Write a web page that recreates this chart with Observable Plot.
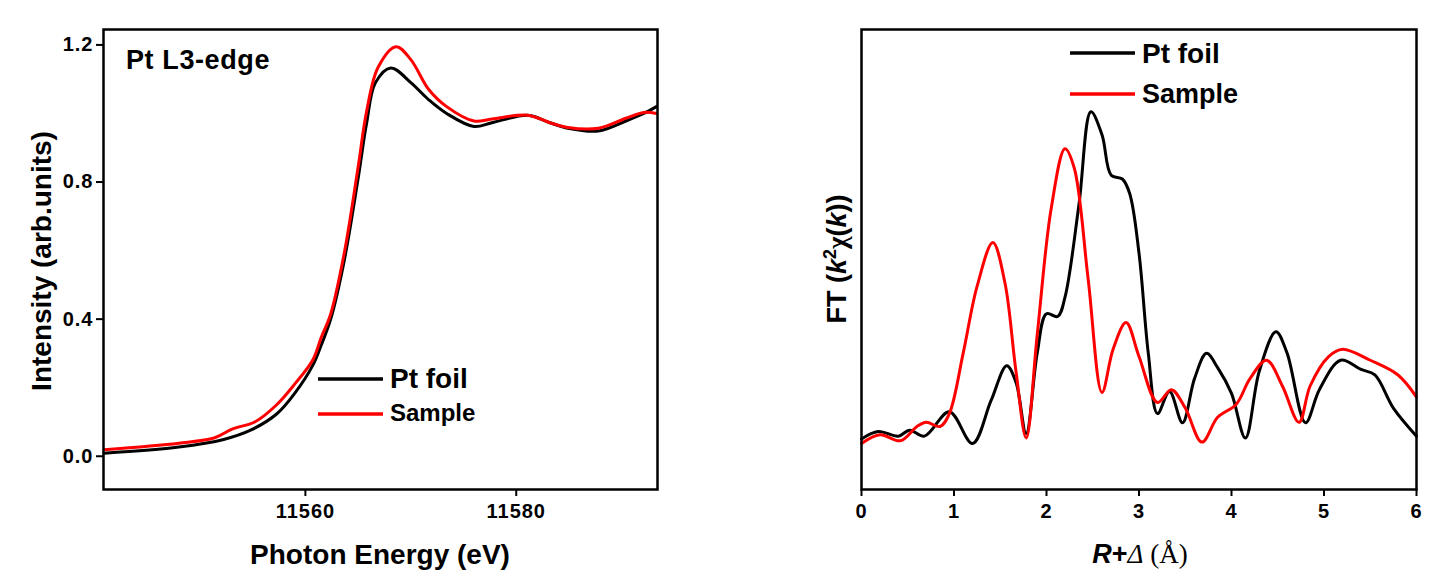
<!DOCTYPE html>
<html>
<head>
<meta charset="utf-8">
<script src="https://cdn.jsdelivr.net/npm/d3@7"></script>
<script src="https://cdn.jsdelivr.net/npm/@observablehq/plot@0.6"></script>
<style>
  html, body { margin: 0; padding: 0; background: #fff; }
  #wrap { position: relative; width: 1452px; height: 581px; overflow: hidden; font-family: "Liberation Sans", Arial, sans-serif; }
  #left, #right { position: absolute; top: 0; }
  #left { left: 0; }
  #right { left: 740px; }
  #left svg text, #right svg text { font-size: 20px !important; letter-spacing: 1px; font-weight: bold !important; font-family: "Liberation Sans", Arial, sans-serif; }
  #overlay { position: absolute; left: 0; top: 0; pointer-events: none; }
  #overlay text { font-family: "Liberation Sans", Arial, sans-serif; font-weight: bold; fill: #000; }
</style>
</head>
<body>
<div id="wrap">
  <div id="left"></div>
  <div id="right"></div>
  <svg id="overlay" width="1452" height="581"></svg>
</div>
<script>
// ---------- Left panel: Pt L3-edge XANES ----------
const xanesEnergy = [11540.9, 11548.0, 11552.25, 11554.8, 11557.3, 11559.0, 11560.7, 11561.5, 11562.4, 11563.7, 11565.0, 11565.8, 11566.65, 11568.1, 11570.0, 11571.7, 11573.4, 11576.0, 11577.7, 11581.1, 11583.2, 11584.9, 11587.8, 11590.4, 11592.1, 11593.3];
const xanesFoil   = [0.009, 0.027, 0.049, 0.076, 0.124, 0.184, 0.265, 0.324, 0.40, 0.573, 0.81, 0.97, 1.09, 1.133, 1.09, 1.04, 1.00, 0.962, 0.973, 0.995, 0.973, 0.957, 0.949, 0.978, 1.00, 1.02];
const xanesSampleEnergy = [11540.9, 11548.0, 11551.4, 11553.1, 11555.2, 11557.3, 11559.0, 11560.7, 11561.5, 11562.4, 11563.7, 11565.0, 11565.8, 11566.9, 11568.6, 11570.0, 11571.7, 11573.4, 11576.0, 11577.7, 11581.1, 11583.2, 11584.9, 11587.8, 11590.4, 11592.1, 11593.3];
const xanesSample = [0.019, 0.038, 0.054, 0.080, 0.100, 0.151, 0.211, 0.281, 0.346, 0.415, 0.595, 0.843, 1.005, 1.135, 1.195, 1.157, 1.07, 1.02, 0.978, 0.984, 0.995, 0.973, 0.959, 0.957, 0.986, 1.003, 1.00];
const xanesTicksX = [11560, 11580];
const xanesTicksY = [0, 0.4, 0.8, 1.2];

// ---------- Right panel: FT of EXAFS ----------
const ftR_foil = [0, 0.18, 0.4, 0.52, 0.68, 0.95, 1.2, 1.4, 1.57, 1.67, 1.78, 1.9, 2.0, 2.12, 2.2, 2.35, 2.48, 2.6, 2.7, 2.82, 2.9, 3.0, 3.1, 3.2, 3.33, 3.47, 3.6, 3.73, 3.85, 4.0, 4.15, 4.3, 4.48, 4.6, 4.8, 4.95, 5.18, 5.4, 5.55, 5.75, 6.0];
const ftFoil   = [1.10, 1.26, 1.16, 1.29, 1.16, 1.69, 1.00, 1.93, 2.69, 2.33, 1.22, 2.97, 3.82, 3.76, 4.18, 6.18, 8.21, 7.71, 6.83, 6.75, 6.43, 5.14, 2.97, 1.65, 2.13, 1.45, 2.41, 2.96, 2.65, 2.09, 1.12, 2.57, 3.43, 2.97, 1.45, 2.17, 2.81, 2.61, 2.49, 1.77, 1.16];
const ftR_sample = [0, 0.2, 0.42, 0.6, 0.7, 0.85, 0.95, 1.1, 1.25, 1.42, 1.55, 1.67, 1.78, 1.9, 2.05, 2.2, 2.3, 2.45, 2.6, 2.72, 2.86, 3.0, 3.2, 3.35, 3.5, 3.68, 3.85, 4.05, 4.2, 4.38, 4.55, 4.73, 4.85, 5.05, 5.2, 5.5, 5.8, 6.0];
const ftSample = [1.00, 1.19, 1.06, 1.37, 1.46, 1.37, 1.65, 2.97, 4.42, 5.37, 4.50, 2.57, 1.12, 3.37, 6.10, 7.41, 6.99, 4.58, 2.11, 3.05, 3.63, 2.89, 1.89, 2.17, 1.77, 1.03, 1.57, 1.85, 2.41, 2.81, 2.25, 1.46, 2.25, 2.89, 3.05, 2.81, 2.49, 2.01];
const ftTicksX = [0, 1, 2, 3, 4, 5, 6];

const seriesNames = ["Pt foil", "Sample"];
const seriesColors = ["#000000", "#ff0000"];

const xanesFoilData = xanesEnergy.map((e, i) => ({x: e, y: xanesFoil[i]}));
const xanesSampleData = xanesSampleEnergy.map((e, i) => ({x: e, y: xanesSample[i]}));
const ftFoilData = ftR_foil.map((r, i) => ({x: r, y: ftFoil[i]}));
const ftSampleData = ftR_sample.map((r, i) => ({x: r, y: ftSample[i]}));

const baseStyle = {fontFamily: "'Liberation Sans', Arial, sans-serif", fontWeight: "bold", fontSize: "20px", color: "#000", background: "#fff", overflow: "visible"};

const left = Plot.plot({
  width: 700, height: 581,
  marginTop: 29, marginBottom: 92, marginLeft: 103, marginRight: 43,
  style: baseStyle,
  x: {domain: [11540.85, 11593.4]},
  y: {domain: [-0.097, 1.245]},
  marks: [
    Plot.axisX({ticks: xanesTicksX, tickFormat: d3.format("d"), tickSize: 7, tickPadding: 7, strokeWidth: 2, label: null}),
    Plot.axisY({ticks: xanesTicksY, tickFormat: d3.format(".1f"), tickSize: 7, tickPadding: 3, strokeWidth: 2, label: null}),
    Plot.line(xanesFoilData, {x: "x", y: "y", stroke: seriesColors[0], strokeWidth: 3, curve: "catmull-rom"}),
    Plot.line(xanesSampleData, {x: "x", y: "y", stroke: seriesColors[1], strokeWidth: 3, curve: "catmull-rom"}),
    Plot.frame({stroke: "#000", strokeWidth: 2.5})
  ]
});
document.getElementById("left").appendChild(left);

const right = Plot.plot({
  width: 712, height: 581,
  marginTop: 29, marginBottom: 92, marginLeft: 121, marginRight: 36,
  style: baseStyle,
  x: {domain: [0, 6]},
  y: {domain: [0, 10], axis: null},
  marks: [
    Plot.axisX({ticks: ftTicksX, tickFormat: d3.format("d"), tickSize: 7, tickPadding: 7, strokeWidth: 2, label: null}),
    Plot.line(ftFoilData, {x: "x", y: "y", stroke: seriesColors[0], strokeWidth: 3, curve: "catmull-rom"}),
    Plot.line(ftSampleData, {x: "x", y: "y", stroke: seriesColors[1], strokeWidth: 3, curve: "catmull-rom"}),
    Plot.frame({stroke: "#000", strokeWidth: 2.5})
  ]
});
document.getElementById("right").appendChild(right);

// ---------- Text overlay: titles, axis labels, legends ----------
const ov = d3.select("#overlay");
ov.append("text").attr("x", 126).attr("y", 69).style("font-size", "27px").style("letter-spacing", "0.6px").text("Pt L3-edge");
ov.append("text").attr("x", 380).attr("y", 564).attr("text-anchor", "middle").style("font-size", "28px").text("Photon Energy (eV)");
ov.append("text").attr("transform", "translate(51,261) rotate(-90)").attr("text-anchor", "middle").style("font-size", "28px").text("Intensity (arb.units)");

const ftLabel = ov.append("text").attr("transform", "translate(846,259) rotate(-90)").attr("text-anchor", "middle").style("font-size", "27px");
ftLabel.append("tspan").text("FT (");
ftLabel.append("tspan").style("font-style", "italic").text("k");
ftLabel.append("tspan").attr("dy", -10).style("font-size", "18px").text("2");
ftLabel.append("tspan").attr("dy", 10).style("font-family", "'Liberation Serif', serif").text("χ");
ftLabel.append("tspan").text("(");
ftLabel.append("tspan").style("font-style", "italic").text("k");
ftLabel.append("tspan").text("))");

const rLabel = ov.append("text").attr("x", 1140).attr("y", 563).attr("text-anchor", "middle").style("font-size", "27px");
rLabel.append("tspan").style("font-style", "italic").text("R");
rLabel.append("tspan").text("+");
rLabel.append("tspan").style("font-style", "italic").style("font-family", "'Liberation Serif', serif").style("font-weight", "normal").text("Δ");
rLabel.append("tspan").style("font-family", "'Liberation Serif', serif").style("font-weight", "normal").text(" (Å)");

function legend(items) {
  items.forEach(it => {
    ov.append("line").attr("x1", it.x1).attr("x2", it.x2).attr("y1", it.y).attr("y2", it.y)
      .attr("stroke", it.color).attr("stroke-width", 3.5);
    ov.append("text").attr("x", it.tx).attr("y", it.ty).style("font-size", it.fs + "px").text(it.name);
  });
}
legend([
  {name: seriesNames[0], color: seriesColors[0], x1: 318, x2: 383, y: 379, tx: 390, ty: 388, fs: 28},
  {name: seriesNames[1], color: seriesColors[1], x1: 318, x2: 383, y: 414, tx: 390, ty: 421, fs: 24},
  {name: seriesNames[0], color: seriesColors[0], x1: 1070, x2: 1135, y: 53, tx: 1142, ty: 63, fs: 28},
  {name: seriesNames[1], color: seriesColors[1], x1: 1070, x2: 1135, y: 94, tx: 1142, ty: 103, fs: 27}
]);
</script>
</body>
</html>
